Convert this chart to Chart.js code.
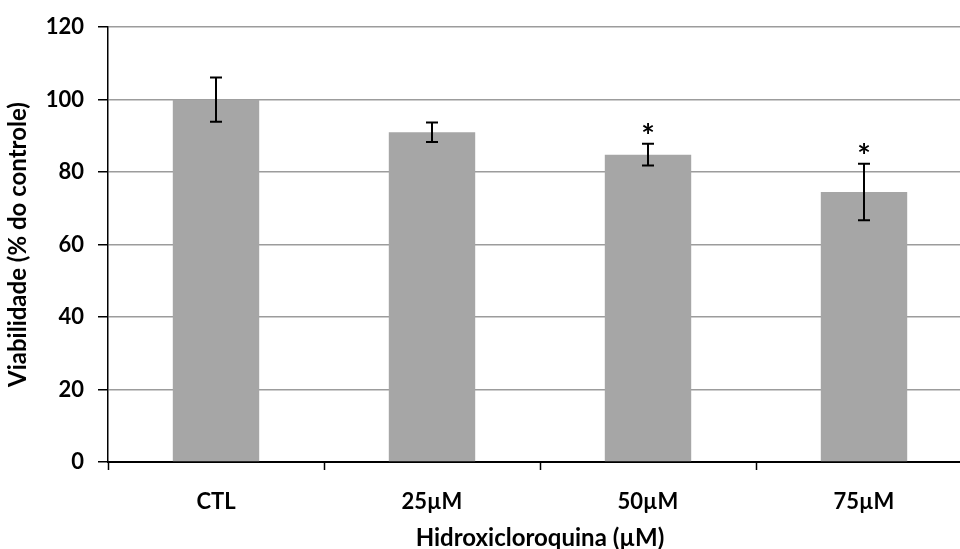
<!DOCTYPE html>
<html>
<head>
<meta charset="utf-8">
<script src="https://cdn.jsdelivr.net/npm/chart.js@4/dist/chart.umd.min.js"></script>
<style>
  html, body { margin: 0; padding: 0; overflow: hidden; background: #fff; }
  #wrap { width: 980px; height: 549px; }
</style>
</head>
<body>
<div id="wrap"><canvas id="grafico" width="980" height="549"></canvas></div>
<script>
const categorias = ['CTL', '25µM', '50µM', '75µM'];
const viabilidade = [100, 91.0, 84.8, 74.5];
const erro = [6.1, 2.7, 3.0, 7.8];
const significancia = ['', '', '*', '*'];
const ticksY = [0, 20, 40, 60, 80, 100, 120];

const fonte = 'Lato, "Open Sans", sans-serif';

// barras de erro + asteriscos
const errosPlugin = {
  id: 'erros',
  afterDatasetsDraw(chart) {
    const ctx = chart.ctx;
    const meta = chart.getDatasetMeta(0);
    const y = chart.scales.y;
    ctx.save();
    ctx.strokeStyle = '#000';
    ctx.lineWidth = 2;
    meta.data.forEach((bar, i) => {
      const x = bar.x;
      const yTop = y.getPixelForValue(viabilidade[i] + erro[i]);
      const yBot = y.getPixelForValue(viabilidade[i] - erro[i]);
      ctx.beginPath();
      ctx.moveTo(x, yTop); ctx.lineTo(x, yBot);
      ctx.moveTo(x - 6, yTop); ctx.lineTo(x + 6, yTop);
      ctx.moveTo(x - 6, yBot); ctx.lineTo(x + 6, yBot);
      ctx.stroke();
      if (significancia[i]) {
        ctx.fillStyle = '#000';
        ctx.font = 'bold 32px ' + fonte;
        ctx.textAlign = 'center';
        ctx.textBaseline = 'middle';
        ctx.fillText(significancia[i], x, yTop - 6);
      }
    });
    ctx.restore();
  }
};

new Chart(document.getElementById('grafico'), {
  type: 'bar',
  data: {
    labels: categorias,
    datasets: [{
      data: viabilidade,
      backgroundColor: '#a6a6a6',
      borderWidth: 0,
      categoryPercentage: 1.0,
      barPercentage: 0.4
    }]
  },
  options: {
    responsive: false,
    animation: false,
    devicePixelRatio: 1,
    layout: { padding: { top: 24, right: 8, left: 0, bottom: 0 } },
    plugins: { legend: { display: false }, tooltip: { enabled: false } },
    scales: {
      x: {
        afterFit: (s) => { s.height = 87; },
        grid: {
          display: true,
          offset: true,
          drawOnChartArea: false,
          drawTicks: true,
          tickLength: 8,
          tickColor: '#000',
          tickWidth: 1.5
        },
        border: { color: '#000', width: 2 },
        ticks: {
          color: '#000',
          padding: 19,
          font: { family: fonte, size: 22, weight: 'bold' }
        },
        title: {
          display: true,
          text: 'Hidroxicloroquina (µM)',
          color: '#000',
          padding: { top: 0, bottom: -4 },
          font: { family: fonte, size: 24, weight: 'bold' }
        }
      },
      y: {
        min: 0,
        max: 120,
        afterFit: (s) => { s.width = 108; },
        afterBuildTicks: (s) => { s.ticks = ticksY.map(v => ({ value: v })); },
        grid: {
          color: '#9c9c9c',
          lineWidth: 1.5,
          drawTicks: true,
          tickLength: 10,
          tickColor: '#000',
          tickWidth: 1.5
        },
        border: { color: '#000', width: 1.5 },
        ticks: {
          color: '#000',
          padding: 14,
          font: { family: fonte, size: 22, weight: 'bold' }
        },
        title: {
          display: true,
          text: 'Viabilidade (% do controle)',
          color: '#000',
          padding: { top: 4, bottom: 0 },
          font: { family: fonte, size: 24, weight: 'bold' }
        }
      }
    }
  },
  plugins: [errosPlugin]
});
</script>
</body>
</html>
